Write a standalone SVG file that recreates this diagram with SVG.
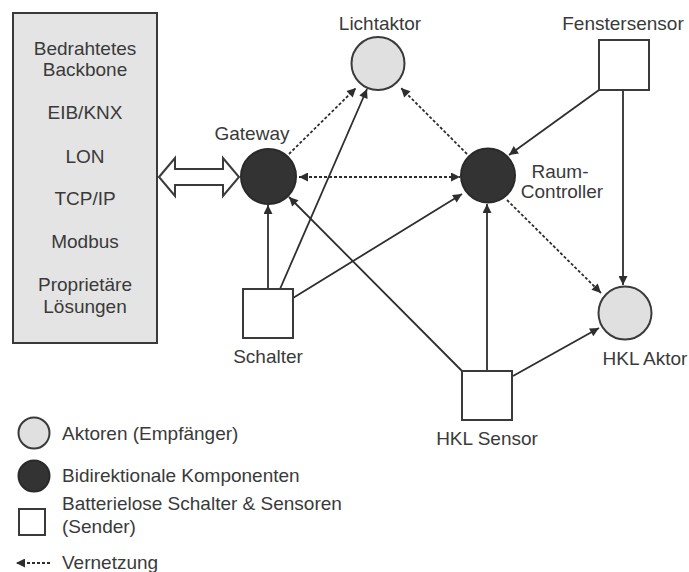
<svg xmlns="http://www.w3.org/2000/svg" width="689" height="572" viewBox="0 0 689 572">
<defs>
<style>
text{font-family:"Liberation Sans",Arial,sans-serif;font-size:19px;fill:#3a3a3a}
.m{text-anchor:middle}
.light{fill:#e0e0e0;stroke:#3a3a3a;stroke-width:2}
.dark{fill:#333;stroke:#2a2a2a;stroke-width:2}
.sq{fill:#fff;stroke:#3a3a3a;stroke-width:2}
.c{fill:none;stroke:#2e2e2e;stroke-width:1.8;marker-end:url(#ah)}
.d{fill:none;stroke:#2e2e2e;stroke-width:1.8;stroke-dasharray:3 2;marker-end:url(#ah)}
</style>
<marker id="ah" viewBox="0 0 10 10" refX="10" refY="5" markerWidth="11" markerHeight="9" markerUnits="userSpaceOnUse" orient="auto-start-reverse">
<path d="M0,0 L10,5 L0,10 z" fill="#2e2e2e"/>
</marker>
</defs>
<rect width="689" height="572" fill="#fff"/>

<g id="backbone">
<rect x="13" y="13" width="144" height="330" fill="#e4e4e4" stroke="#3a3a3a" stroke-width="2"/>
<text class="m" x="85" y="55">Bedrahtetes</text>
<text class="m" x="85" y="76">Backbone</text>
<text class="m" x="85" y="119">EIB/KNX</text>
<text class="m" x="85" y="163">LON</text>
<text class="m" x="85" y="205">TCP/IP</text>
<text class="m" x="85" y="248">Modbus</text>
<text class="m" x="85" y="291">Proprietäre</text>
<text class="m" x="85" y="313">Lösungen</text>
</g>

<g id="connectors">
<polygon points="159,177 175,158 175,169 223,169 223,158 239,177 223,196 223,185 175,185 175,196" fill="#fff" stroke="#3a3a3a" stroke-width="2" stroke-linejoin="miter"/>
<line class="c" x1="268" y1="289" x2="268" y2="205"/>
<line class="c" x1="280" y1="289" x2="367" y2="89"/>
<line class="c" x1="293" y1="298" x2="462" y2="194"/>
<line class="c" x1="462" y1="371" x2="289" y2="197"/>
<line class="c" x1="487" y1="371" x2="487" y2="204"/>
<line class="c" x1="513" y1="376" x2="599" y2="328"/>
<line class="c" x1="599" y1="90" x2="509" y2="155"/>
<line class="c" x1="623" y1="90" x2="623" y2="285"/>
<line class="d" x1="299" y1="177" x2="460" y2="177" style="marker-start:url(#ah)"/>
<line class="d" x1="289" y1="154" x2="356" y2="88"/>
<line class="d" x1="467" y1="154" x2="401" y2="88"/>
<line class="d" x1="507" y1="200" x2="601" y2="293"/>
</g>

<g id="lichtaktor">
<circle class="light" cx="378" cy="63.5" r="26.5"/>
<text class="m" x="380" y="30">Lichtaktor</text>
</g>
<g id="gateway">
<circle class="dark" cx="268.5" cy="176.5" r="27.5"/>
<text class="m" x="252" y="140">Gateway</text>
</g>
<g id="raumcontroller">
<circle class="dark" cx="488" cy="175.5" r="27"/>
<text class="m" x="560" y="178">Raum-</text>
<text class="m" x="562" y="198">Controller</text>
</g>
<g id="fenstersensor">
<rect class="sq" x="599" y="40" width="50" height="50"/>
<text class="m" x="623" y="30">Fenstersensor</text>
</g>
<g id="schalter">
<rect class="sq" x="243" y="289" width="50" height="49"/>
<text class="m" x="268" y="363">Schalter</text>
</g>
<g id="hklsensor">
<rect class="sq" x="462" y="371" width="50" height="49"/>
<text class="m" x="487" y="445">HKL Sensor</text>
</g>
<g id="hklaktor">
<circle class="light" cx="625" cy="313" r="26.5"/>
<text class="m" x="645" y="365">HKL Aktor</text>
</g>

<g id="legend">
<circle class="light" cx="34" cy="433" r="15.5"/>
<text x="62" y="440">Aktoren (Empfänger)</text>
<circle class="dark" cx="34" cy="476" r="15.5"/>
<text x="62" y="482">Bidirektionale Komponenten</text>
<rect class="sq" x="19" y="509" width="26" height="26"/>
<text x="62" y="510">Batterielose Schalter &amp; Sensoren</text>
<text x="62" y="533">(Sender)</text>
<line class="d" x1="50" y1="563" x2="16" y2="563"/>
<text x="62" y="569">Vernetzung</text>
</g>
</svg>
